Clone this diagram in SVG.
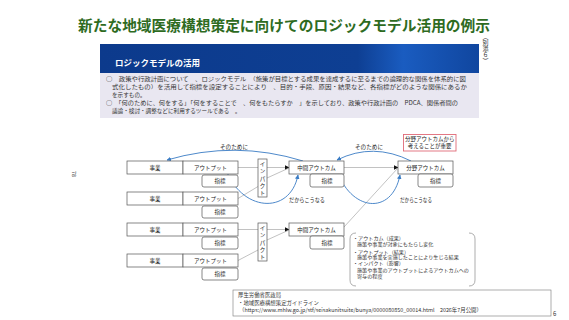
<svg xmlns="http://www.w3.org/2000/svg" width="569" height="320" viewBox="0 0 569 320">
<defs>
<linearGradient id="hdr" x1="0" y1="0" x2="1" y2="0">
<stop offset="0" stop-color="#0c3a8c"/>
<stop offset="0.68" stop-color="#0e3f93"/>
<stop offset="0.8" stop-color="#1a5cc0"/>
<stop offset="1" stop-color="#10469f"/>
</linearGradient>
<marker id="ab" viewBox="0 0 10 10" refX="9" refY="5" markerWidth="5" markerHeight="5" orient="auto" markerUnits="userSpaceOnUse">
<path d="M0,0 L10,5 L0,10 z" fill="#111"/>
</marker>
<marker id="ablue" viewBox="0 0 10 10" refX="9" refY="5" markerWidth="4.5" markerHeight="4.5" orient="auto" markerUnits="userSpaceOnUse">
<path d="M0,0 L10,5 L0,10 z" fill="#3a7cc4"/>
</marker>
</defs>
<style>
text{font-family:"Noto Sans CJK JP","Noto Sans",sans-serif;fill:#222}
.title{font-size:14.5px;font-weight:bold;fill:#2e6b1f}
.hd{font-size:8.5px;font-weight:bold;fill:#fff}
.body{font-size:5.6px;fill:#333}
.bx{fill:#fff;stroke:#555;stroke-width:0.7}
.lbl{font-size:5.5px;text-anchor:middle}
.note{font-size:5.6px}
.def{font-size:5.1px;fill:#333}
.src{font-size:5.4px;fill:#333}
.ln{stroke:#999;stroke-width:0.6;fill:none}
.blue{stroke:#3a7cc4;stroke-width:0.9;fill:none}
</style>
<rect width="569" height="320" fill="#fff"/>
<text class="title" x="78" y="30.5" textLength="412" lengthAdjust="spacingAndGlyphs">新たな地域医療構想策定に向けてのロジックモデル活用の例示</text>
<text x="485.5" y="34" style="writing-mode:vertical-rl;font-size:6px;fill:#333">（別添６）</text>
<text x="0" y="0" transform="translate(72,171) rotate(90)" style="font-size:5.5px;fill:#333">78</text>
<g id="panel">
<rect x="100" y="44" width="379" height="29" fill="url(#hdr)"/>
<text class="hd" x="115" y="65.5">ロジックモデルの活用</text>
<rect x="100" y="73" width="379" height="45" fill="#e9e7f1"/>
<text class="body" x="106" y="80.5" textLength="360" lengthAdjust="spacingAndGlyphs">○　政策や行政計画について　、ロジックモデル　（施策が目標とする成果を達成するに至るまでの論理的な関係を体系的に図</text>
<text class="body" x="112" y="88.6" textLength="355" lengthAdjust="spacingAndGlyphs">式化したもの）を活用して指標を設定することにより　、目的・手段、原因・結果など、各指標がどのような関係にあるか</text>
<text class="body" x="112" y="96.7">を示すもの。</text>
<text class="body" x="106" y="104.8" textLength="352" lengthAdjust="spacingAndGlyphs">○　「何のために、何をする」「何をすることで　、何をもたらすか　」を示しており、政策や行政計画の　PDCA、関係者間の</text>
<text class="body" x="112" y="112.9">議論・検討・調整などに利用するツールである　。</text>
</g>
<g id="connectors">
<line class="ln" x1="238" y1="167.5" x2="258" y2="167.5"/>
<line class="ln" x1="238" y1="198.5" x2="258" y2="186.5"/>
<line class="ln" x1="238" y1="229.5" x2="258" y2="229.5"/>
<line class="ln" x1="238" y1="260.5" x2="258" y2="250"/>
<line class="ln" x1="267" y1="167.5" x2="289" y2="167.5" marker-end="url(#ab)"/>
<line class="ln" x1="267" y1="178" x2="289" y2="168"/>
<line class="ln" x1="267" y1="229.5" x2="289" y2="229.5" marker-end="url(#ab)"/>
<line class="ln" x1="267" y1="240" x2="289" y2="230"/>
<line class="ln" x1="344" y1="167.5" x2="398" y2="167.5" marker-end="url(#ab)"/>
<line class="ln" x1="344" y1="227" x2="397.5" y2="168.5"/>
<path class="blue" d="M303,161 Q235,140 167,160" marker-end="url(#ablue)"/>
<path class="blue" d="M411,161 Q373,142 337,160" marker-end="url(#ablue)"/>
<path class="blue" d="M225,167 C240,212 290,216 298,175" marker-end="url(#ablue)"/>
<path class="blue" d="M336,168 C350,212 392,216 400,175" marker-end="url(#ablue)"/>
<text class="note" x="220" y="148.5" textLength="28" lengthAdjust="spacingAndGlyphs">そのために</text>
<text class="note" x="355" y="148.5" textLength="28" lengthAdjust="spacingAndGlyphs">そのために</text>
<text class="note" x="289" y="202" textLength="36" lengthAdjust="spacingAndGlyphs">だからこうなる</text>
<text class="note" x="400" y="202" textLength="32" lengthAdjust="spacingAndGlyphs">だからこうなる</text>
</g>
<g id="row1">
<rect class="bx" x="127" y="161" width="56" height="13"/><text class="lbl" x="155" y="169.6">事業</text>
<rect class="bx" x="183" y="161" width="55" height="13"/><text class="lbl" x="210.5" y="169.6">アウトプット</text>
<rect class="bx" x="202" y="175" width="36" height="12" rx="2"/><text class="lbl" x="220" y="183">指標</text>
</g>
<g id="row2">
<rect class="bx" x="127" y="192" width="56" height="13"/><text class="lbl" x="155" y="200.6">事業</text>
<rect class="bx" x="183" y="192" width="55" height="13"/><text class="lbl" x="210.5" y="200.6">アウトプット</text>
<rect class="bx" x="202" y="206" width="36" height="12" rx="2"/><text class="lbl" x="220" y="214">指標</text>
</g>
<g id="row3">
<rect class="bx" x="127" y="223" width="56" height="13"/><text class="lbl" x="155" y="231.6">事業</text>
<rect class="bx" x="183" y="223" width="55" height="13"/><text class="lbl" x="210.5" y="231.6">アウトプット</text>
<rect class="bx" x="202" y="237" width="36" height="12" rx="2"/><text class="lbl" x="220" y="245">指標</text>
</g>
<g id="row4">
<rect class="bx" x="127" y="254" width="56" height="13"/><text class="lbl" x="155" y="262.6">事業</text>
<rect class="bx" x="183" y="254" width="55" height="13"/><text class="lbl" x="210.5" y="262.6">アウトプット</text>
<rect class="bx" x="202" y="268" width="36" height="12" rx="2"/><text class="lbl" x="220" y="276">指標</text>
</g>
<g id="impact1">
<rect class="bx" x="258" y="159" width="9" height="38"/>
<text class="lbl" x="262.5"><tspan x="262.5" y="166">イ</tspan><tspan x="262.5" y="173">ン</tspan><tspan x="262.5" y="180.5">パ</tspan><tspan x="262.5" y="187.5">ク</tspan><tspan x="262.5" y="194.5">ト</tspan></text>
</g>
<g id="impact2">
<rect class="bx" x="258" y="223" width="9" height="38"/>
<text class="lbl" x="262.5"><tspan x="262.5" y="230">イ</tspan><tspan x="262.5" y="237">ン</tspan><tspan x="262.5" y="244.5">パ</tspan><tspan x="262.5" y="251.5">ク</tspan><tspan x="262.5" y="258.5">ト</tspan></text>
</g>
<g id="mid1">
<rect class="bx" x="289" y="161" width="55" height="13"/><text class="lbl" x="316.5" y="169.6">中間アウトカム</text>
<rect class="bx" x="310" y="174" width="34" height="13" rx="2"/><text class="lbl" x="327" y="182.5">指標</text>
</g>
<g id="mid2">
<rect class="bx" x="289" y="223" width="55" height="13"/><text class="lbl" x="316.5" y="231.6">中間アウトカム</text>
<rect class="bx" x="310" y="236" width="34" height="13" rx="2"/><text class="lbl" x="327" y="244.5">指標</text>
</g>
<g id="field">
<rect class="bx" x="398" y="161" width="55" height="13"/><text class="lbl" x="425.5" y="169.6">分野アウトカム</text>
<rect class="bx" x="418" y="174" width="35" height="13" rx="2"/><text class="lbl" x="435.5" y="182.5">指標</text>
</g>
<g id="callout">
<rect x="403.5" y="134.5" width="52.5" height="16.5" fill="#fff" stroke="#e06a78" stroke-width="0.9"/>
<text class="lbl" x="429.7" y="141">分野アウトカムから</text>
<text class="lbl" x="429.7" y="147.5">考えることが重要</text>
</g>
<g id="definitions">
<path d="M356,233 Q350,233 350,239 L350,280 Q350,286 356,286" fill="none" stroke="#777" stroke-width="0.6"/>
<path d="M469,233 Q475,233 475,239 L475,280 Q475,286 469,286" fill="none" stroke="#777" stroke-width="0.6"/>
<text class="def" x="353" y="239.5">・アウトカム（成果）</text>
<text class="def" x="357" y="245.5">施策や事業が対象にもたらし変化</text>
<text class="def" x="353" y="253.5">・アウトプット（結果）</text>
<text class="def" x="357" y="259">施策や事業を実施したことにより生じる結果</text>
<text class="def" x="353" y="265">・インパクト（影響）</text>
<text class="def" x="357" y="272">施策や事業のアウトプットによるアウトカムへの</text>
<text class="def" x="357" y="278">寄与の程度</text>
</g>
<g id="source">
<rect x="233" y="290" width="318" height="26" fill="#fff" stroke="#777" stroke-width="0.6"/>
<text class="src" x="238" y="297">厚生労働省医政局</text>
<text class="src" x="238" y="304.5">・地域医療構想策定ガイドライン</text>
<text class="src" x="239" y="312">（https://www.mhlw.go.jp/stf/seisakunitsuite/bunya/0000080850_00014.html　2026年7月公開）</text>
</g>
<text x="553" y="315.5" style="font-size:6px;fill:#333">6</text>
</svg>
